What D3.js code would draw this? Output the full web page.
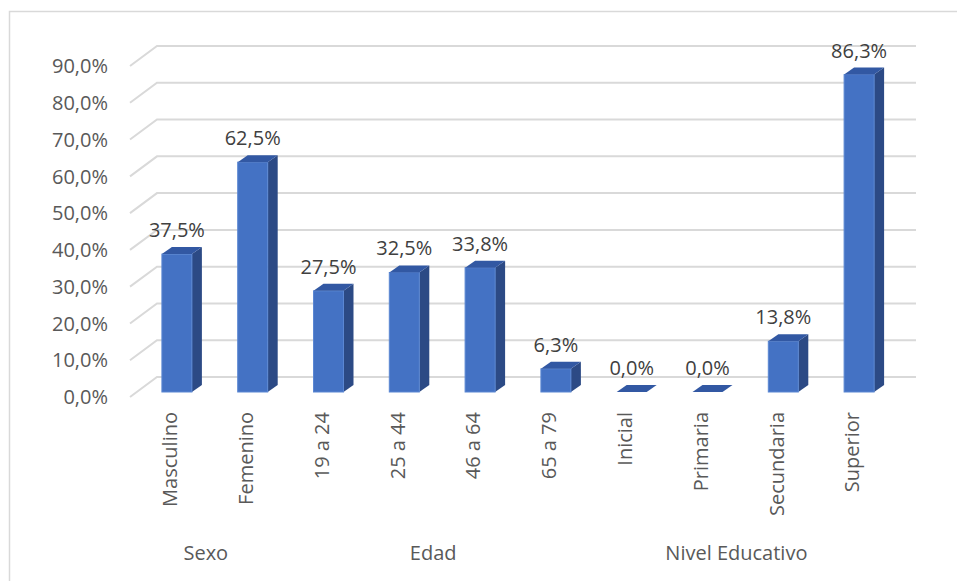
<!DOCTYPE html>
<html><head><meta charset="utf-8">
<script src="https://cdn.jsdelivr.net/npm/d3@7"></script>
<style>body{margin:0;background:#fff}svg{display:block}text{font-family:"Open Sans",sans-serif}</style>
</head><body><svg id="c" width="957" height="581"></svg>
<script>
const categories = ["Masculino","Femenino","19 a 24","25 a 44","46 a 64","65 a 79","Inicial","Primaria","Secundaria","Superior"];
const values = [37.5, 62.5, 27.5, 32.5, 33.8, 6.3, 0.0, 0.0, 13.8, 86.3];
const groups = ["Sexo","Edad","Nivel Educativo"];
const groupSpans = [[0,1],[2,5],[6,9]];
const yTicks = [0,10,20,30,40,50,60,70,80,90];

const svg = d3.select("#c");
const fmt = v => v.toFixed(1).replace(".", ",") + "%";
const FS = 20;

// border (top and left only visible)
svg.append("path").attr("d","M9.5,581 V11.5 H957").attr("fill","none").attr("stroke","#d9d9d9").attr("stroke-width",1.5);

const y = d3.scaleLinear().domain([0,90]).range([397,66]);
const x = d3.scaleBand().domain(categories).range([130,888]);
const depthX = 27, depthY = 20;   // side wall
const barFront = 5;               // bar front plane above floor front edge
const bdx = 10, bdy = 7;          // bar depth
const barW = 30;

// gridlines: diagonal on side wall + back wall horizontal
const g = svg.append("g");
yTicks.forEach(t => {
  const yf = y(t), yb = y(t) - depthY;
  g.append("path")
    .attr("d", `M130,${yf} L${130+depthX},${yb} H916`)
    .attr("fill","none").attr("stroke","#d9d9d9").attr("stroke-width",2);
});

// y tick labels
svg.append("g").selectAll("text").data(yTicks).join("text")
  .attr("x",108).attr("y",d=>y(d)).attr("dy","0.36em")
  .attr("text-anchor","end").attr("font-size",FS).attr("fill","#595959")
  .text(d=>fmt(d));

// bars
const bars = svg.append("g");
categories.forEach((c,i) => {
  const v = values[i];
  const x0 = x(c) + x.bandwidth()/2 - barW/2 + 9;
  const x1 = x0 + barW;
  const yb = y(0) - barFront;
  const yt = y(v) - barFront;
  bars.append("path").attr("d",`M${x1},${yb} L${x1+bdx},${yb-bdy} L${x1+bdx},${yt-bdy} L${x1},${yt} Z`)
    .attr("fill","#2c4a85");
  if (yb - yt > 0.1)
    bars.append("rect").attr("x",x0).attr("y",yt).attr("width",barW).attr("height",yb-yt)
      .attr("fill","#4472c4").attr("stroke","#5b87d3").attr("stroke-width",1);
  bars.append("path").attr("d",`M${x0},${yt} L${x0+bdx},${yt-bdy} L${x1+bdx},${yt-bdy} L${x1},${yt} Z`)
    .attr("fill","#3258a3");
  bars.append("text").attr("x",(x0+x1)/2).attr("y",yt-bdy-10)
    .attr("text-anchor","middle").attr("font-size",FS).attr("fill","#404040")
    .text(fmt(v));
});

// category labels (rotated)
svg.append("g").selectAll("text").data(categories).join("text")
  .attr("transform",d=>`translate(${x(d)+x.bandwidth()/2+2},412) rotate(-90)`)
  .attr("dy","0.36em").attr("text-anchor","end")
  .attr("font-size",FS).attr("fill","#595959").text(d=>d);

// group labels
svg.append("g").selectAll("text").data(groups).join("text")
  .attr("x",(d,i)=>{const [a,b]=groupSpans[i]; return (x(categories[a])+x(categories[b]))/2 + x.bandwidth()/2;})
  .attr("y",560).attr("text-anchor","middle")
  .attr("font-size",FS).attr("fill","#595959").text(d=>d);
</script></body></html>
